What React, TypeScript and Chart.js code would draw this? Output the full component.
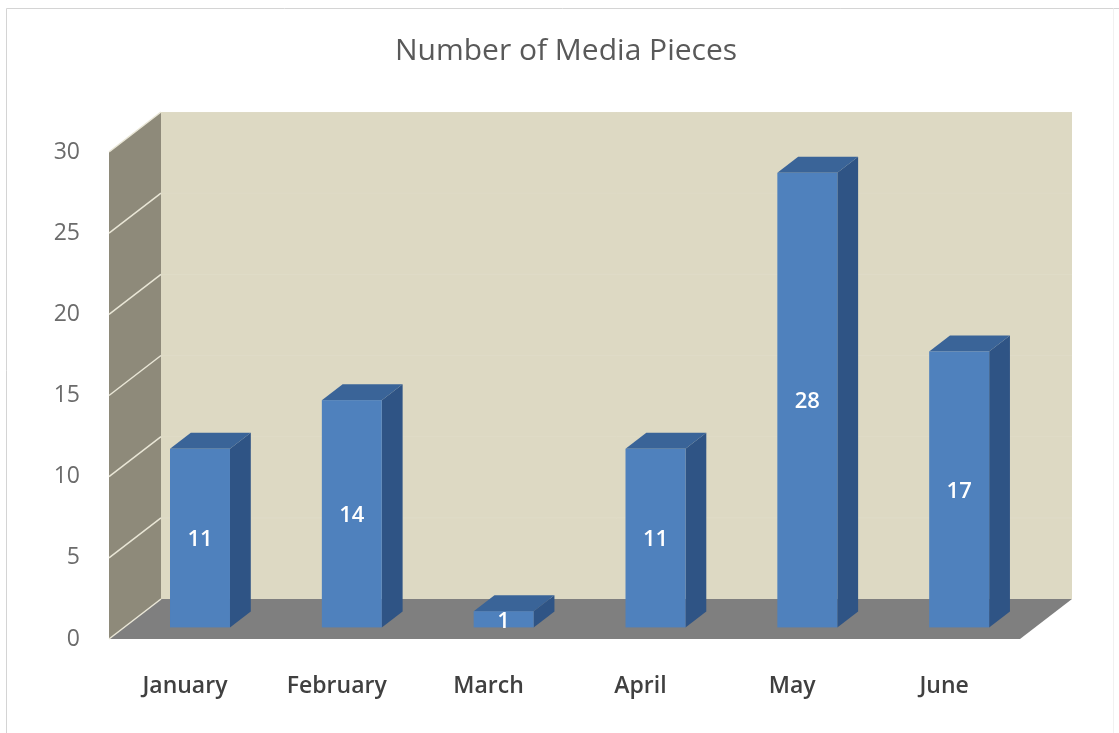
import { useEffect, useRef } from "react";
import { Chart, registerables } from "chart.js";

Chart.register(...registerables);

// ---- data ----
const categories = ["January", "February", "March", "April", "May", "June"];
const mediaPieces = [11, 14, 1, 11, 28, 17];
const yMin = 0;
const yMax = 30;
const yStep = 5;
const chartTitle = "Number of Media Pieces";

// ---- style ----
const FONT = "'Open Sans', 'DejaVu Sans', sans-serif";
const DEPTH_X = 52;
const DEPTH_Y = -40;
const BAR_FRONT = 0.29;
const BAR_BACK = 0.69;

function poly(ctx: CanvasRenderingContext2D, pts: number[][], fill: string) {
  ctx.beginPath();
  ctx.moveTo(pts[0][0], pts[0][1]);
  for (let i = 1; i < pts.length; i++) ctx.lineTo(pts[i][0], pts[i][1]);
  ctx.closePath();
  ctx.fillStyle = fill;
  ctx.fill();
}

const threeDPlugin = {
  id: "threeD",
  beforeDraw(chart: any) {
    const ctx: CanvasRenderingContext2D = chart.ctx;
    const { left, right, top, bottom } = chart.chartArea;
    ctx.save();
    ctx.fillStyle = "#ffffff";
    ctx.fillRect(0, 0, chart.width, chart.height);
    // outer border
    ctx.lineWidth = 1;
    ctx.strokeStyle = "#D4D4D4";
    ctx.beginPath();
    ctx.moveTo(6.5, chart.height);
    ctx.lineTo(6.5, 8.5);
    ctx.lineTo(chart.width, 8.5);
    ctx.stroke();
    ctx.strokeStyle = "#F1F1F1";
    ctx.beginPath();
    ctx.moveTo(1113.5, 8.5);
    ctx.lineTo(1113.5, chart.height);
    ctx.stroke();

    // back wall
    ctx.fillStyle = "#DDD9C3";
    ctx.fillRect(left + DEPTH_X, top + DEPTH_Y, right - left, bottom - top);
    // side wall
    poly(ctx, [[left, top], [left + DEPTH_X, top + DEPTH_Y], [left + DEPTH_X, bottom + DEPTH_Y], [left, bottom]], "#8E8A7A");
    // floor
    poly(ctx, [[left, bottom], [right, bottom], [right + DEPTH_X, bottom + DEPTH_Y], [left + DEPTH_X, bottom + DEPTH_Y]], "#7F7F7F");

    const ys = chart.scales.y;
    ys.ticks.forEach((t: any) => {
      const py = ys.getPixelForValue(t.value);
      // side wall gridline
      ctx.strokeStyle = "#E9E6D6";
      ctx.lineWidth = 1.5;
      ctx.beginPath();
      ctx.moveTo(left, py);
      ctx.lineTo(left + DEPTH_X, py + DEPTH_Y);
      ctx.stroke();
      // faint back wall gridline
      if (t.value > 0) {
        ctx.strokeStyle = "rgba(255,255,255,0.07)";
        ctx.lineWidth = 1;
        ctx.beginPath();
        ctx.moveTo(left + DEPTH_X, py + DEPTH_Y);
        ctx.lineTo(right + DEPTH_X, py + DEPTH_Y);
        ctx.stroke();
      }
    });
    ctx.restore();
  },
  afterDatasetsDraw(chart: any) {
    const ctx: CanvasRenderingContext2D = chart.ctx;
    const meta = chart.getDatasetMeta(0);
    const fx = DEPTH_X * BAR_FRONT;
    const fy = DEPTH_Y * BAR_FRONT;
    const dx = DEPTH_X * (BAR_BACK - BAR_FRONT);
    const dy = DEPTH_Y * (BAR_BACK - BAR_FRONT);
    ctx.save();
    meta.data.forEach((bar: any, i: number) => {
      const p = bar.getProps(["x", "y", "base", "width"], true);
      const L = p.x - p.width / 2 + fx;
      const R = p.x + p.width / 2 + fx;
      const T = Math.min(p.y, p.base) + fy;
      const B = Math.max(p.y, p.base) + fy;
      // side face
      poly(ctx, [[R, T], [R + dx, T + dy], [R + dx, B + dy], [R, B]], "#2F5485");
      // top face
      poly(ctx, [[L, T], [R, T], [R + dx, T + dy], [L + dx, T + dy]], "#3A6498");
      // front face
      ctx.fillStyle = "#4F81BD";
      ctx.fillRect(L, T, R - L, B - T);
      // value label
      ctx.fillStyle = "#FFFFFF";
      ctx.font = `600 22px ${FONT}`;
      ctx.textAlign = "center";
      ctx.textBaseline = "middle";
      ctx.fillText(String(mediaPieces[i]), (L + R) / 2, (T + B) / 2 + 2);
    });
    ctx.restore();
  },
  afterDraw(chart: any) {
    const ctx: CanvasRenderingContext2D = chart.ctx;
    ctx.save();
    ctx.fillStyle = "#595959";
    ctx.font = `30px ${FONT}`;
    ctx.textAlign = "center";
    ctx.textBaseline = "middle";
    ctx.fillText(chartTitle, 566, 51);
    ctx.restore();
  },
};

export default function App() {
  const ref = useRef<HTMLCanvasElement | null>(null);
  useEffect(() => {
    if (!ref.current) return;
    const chart = new Chart(ref.current, {
      type: "bar",
      data: {
        labels: categories,
        datasets: [
          {
            label: chartTitle,
            data: mediaPieces,
            backgroundColor: "rgba(0,0,0,0)",
            borderWidth: 0,
            categoryPercentage: 1,
            barPercentage: 0.395,
          },
        ],
      },
      options: {
        responsive: false,
        animation: false,
        events: [],
        layout: { padding: { left: 0, right: 99, top: 152, bottom: 0 } },
        plugins: {
          legend: { display: false },
          title: { display: false },
          tooltip: { enabled: false },
        },
        scales: {
          x: {
            grid: { display: false, drawTicks: false },
            border: { display: false },
            ticks: {
              color: "#404040",
              font: { family: FONT, size: 23, weight: "600" },
              padding: 34,
              maxRotation: 0,
            },
            afterFit: (s: any) => {
              s.height = 94;
            },
          },
          y: {
            min: yMin,
            max: yMax,
            grid: { display: false, drawTicks: false },
            border: { display: false },
            ticks: {
              stepSize: yStep,
              color: "#6B6B6B",
              font: { family: FONT, size: 23 },
              padding: 29,
            },
            afterFit: (s: any) => {
              s.width = 109;
            },
          },
        },
      },
      plugins: [threeDPlugin],
    });
    return () => chart.destroy();
  }, []);
  return (
    <div style={{ position: "fixed", left: 0, top: 0, width: 1119, height: 733, background: "#fff" }}>
      <canvas ref={ref} width={1119} height={733} style={{ display: "block" }} />
    </div>
  );
}
